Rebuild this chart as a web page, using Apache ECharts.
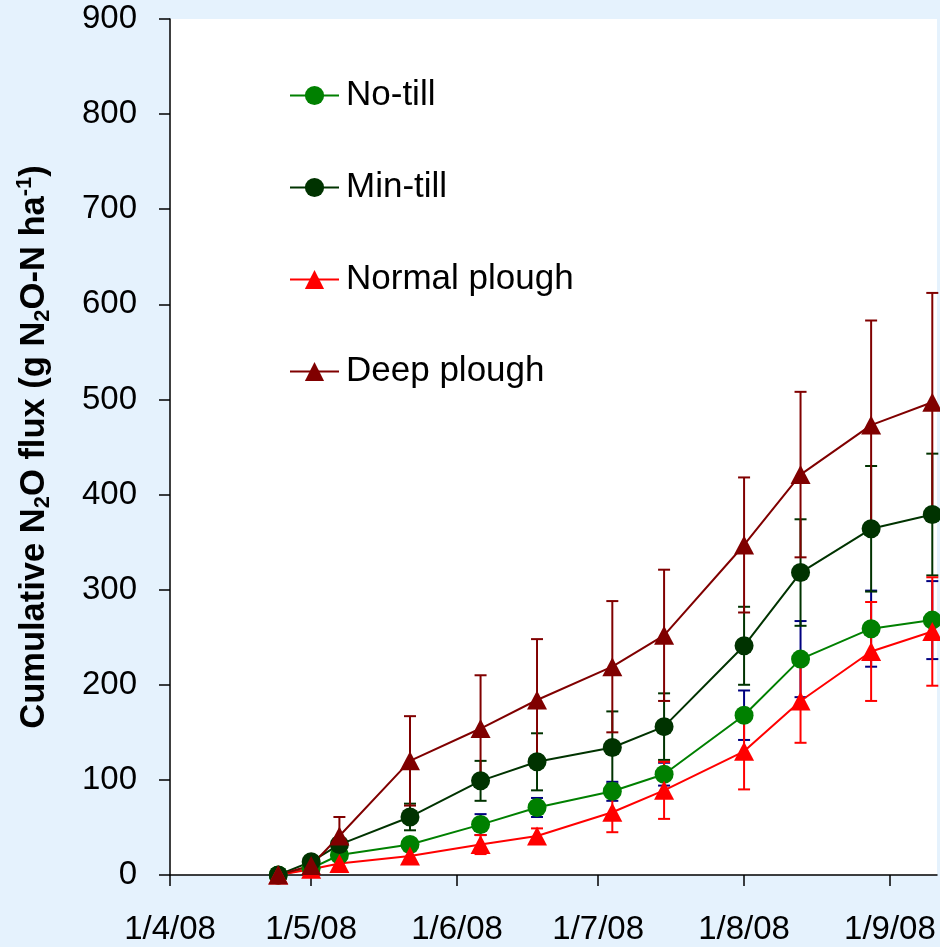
<!DOCTYPE html>
<html>
<head>
<meta charset="utf-8">
<script src="https://cdn.jsdelivr.net/npm/echarts@6/dist/echarts.min.js"></script>
<style>
html,body{margin:0;padding:0;background:#E5F2FD;}
#chart{width:940px;height:947px;}
</style>
</head>
<body>
<div id="chart"></div>
<script>
const dates = ['2008-04-24','2008-05-01','2008-05-07','2008-05-22','2008-06-06','2008-06-18','2008-07-04','2008-07-15','2008-08-01','2008-08-13','2008-08-28','2008-09-10'];
const noTill      = [0, 7, 21, 32, 53, 71, 88, 106, 168, 227, 259, 268];
const noTillErr   = [0, 0, 3, 5, 11, 10, 10, 12, 26, 40, 40, 41];
const minTill     = [0, 14, 32, 61, 99, 119, 134, 156, 241, 318, 364, 379];
const minTillErr  = [0, 2, 5, 14, 21, 30, 38, 35, 41, 56, 66, 64];
const normal      = [0, 6, 12, 20, 32, 41, 66, 89, 130, 183, 235, 256];
const normalErr   = [0, 2, 3, 5, 10, 8, 21, 30, 40, 44, 52, 57];
const deep        = [0, 10, 41, 120, 154, 184, 219, 252, 347, 421, 473, 497];
const deepErr     = [0, 3, 20, 47, 56, 64, 69, 69, 71, 87, 110, 115];
const tickDates   = ['2008-04-01','2008-05-01','2008-06-01','2008-07-01','2008-08-01','2008-09-01'];
const tickLabels  = ['1/4/08','1/5/08','1/6/08','1/7/08','1/8/08','1/9/08'];
const endDate     = '2008-09-11';

function dayOf(s){
  const p = s.split('-').map(Number);
  return Math.round((Date.UTC(p[0],p[1]-1,p[2]) - Date.UTC(2008,3,1))/86400000);
}
const xs = dates.map(dayOf);
const tickDays = tickDates.map(dayOf);

function lineSeries(name, vals, color, symbol){
  return {
    name: name, type: 'line', z: 3,
    data: xs.map((x,i)=>[x, vals[i]]),
    symbol: symbol, symbolSize: symbol === 'circle' ? 19 : [20,19],
    showAllSymbol: true,
    lineStyle: {color: color, width: 2},
    itemStyle: {color: color},
    emphasis: {disabled: true}
  };
}
function errSeries(vals, errs, color){
  return {
    type: 'custom', z: 2, silent: true,
    data: xs.map((x,i)=>[x, vals[i]-errs[i], vals[i]+errs[i], errs[i]]),
    encode: {x: 0, y: [1,2]},
    renderItem: function(params, api){
      if (api.value(3) <= 0) return null;
      const x = api.value(0);
      const lo = api.coord([x, api.value(1)]);
      const hi = api.coord([x, api.value(2)]);
      const w = 6;
      const st = {stroke: color, lineWidth: 2};
      return {type:'group', children:[
        {type:'line', shape:{x1:lo[0],y1:lo[1],x2:hi[0],y2:hi[1]}, style:st},
        {type:'line', shape:{x1:lo[0]-w,y1:lo[1],x2:lo[0]+w,y2:lo[1]}, style:st},
        {type:'line', shape:{x1:hi[0]-w,y1:hi[1],x2:hi[0]+w,y2:hi[1]}, style:st}
      ]};
    }
  };
}

const FONT = 'Liberation Sans, Arial, sans-serif';
const chart = echarts.init(document.getElementById('chart'));
chart.setOption({
  backgroundColor: '#E5F2FD',
  animation: false,
  textStyle: {fontFamily: FONT},
  grid: {left: 170, right: 3, top: 19, bottom: 72, show: true, backgroundColor: '#ffffff', borderWidth: 0},
  legend: {
    data: ['No-till','Min-till','Normal plough','Deep plough'],
    orient: 'vertical', left: 289, top: 78, padding: 0,
    itemWidth: 49, itemHeight: 24, itemGap: 57,
    textStyle: {fontSize: 35, color: '#000', fontFamily: FONT, lineHeight: 34, padding: [0,0,0,2]}
  },
  xAxis: {
    type: 'value', min: 0, max: dayOf(endDate),
    splitLine: {show: false},
    axisLine: {lineStyle: {color: '#000', width: 1.5}},
    axisTick: {show: true, length: 11, customValues: tickDays, lineStyle: {color: '#000', width: 1.5}},
    axisLabel: {
      customValues: tickDays, fontSize: 33, color: '#000', margin: 38, fontFamily: FONT,
      formatter: function(v){ const i = tickDays.indexOf(v); return i >= 0 ? tickLabels[i] : ''; }
    }
  },
  yAxis: {
    type: 'value', min: 0, max: 900, interval: 100,
    splitLine: {show: false},
    axisLine: {show: true, lineStyle: {color: '#000', width: 1.5}},
    axisTick: {show: true, length: 11, lineStyle: {color: '#000', width: 1.5}},
    axisLabel: {fontSize: 33, color: '#000', margin: 33, fontFamily: FONT},
    name: '{b|Cumulative N}{sub|2}{b|O flux (g N}{sub|2}{b|O-N ha}{sup|-1}{b|)}',
    nameLocation: 'middle', nameRotate: 90, nameGap: 116,
    nameTextStyle: {
      rich: {
        b: {fontSize: 34.5, fontWeight: 'bold', color: '#000', fontFamily: FONT, lineHeight: 40},
        sub: {fontSize: 22, fontWeight: 'bold', color: '#000', fontFamily: FONT, lineHeight: 22, verticalAlign: 'bottom'},
        sup: {fontSize: 22, fontWeight: 'bold', color: '#000', fontFamily: FONT, lineHeight: 22, verticalAlign: 'top'}
      }
    }
  },
  series: [
    errSeries(noTill, noTillErr, '#000080'),
    errSeries(minTill, minTillErr, '#003300'),
    errSeries(normal, normalErr, '#FF0000'),
    errSeries(deep, deepErr, '#800000'),
    lineSeries('No-till', noTill, '#008000', 'circle'),
    lineSeries('Min-till', minTill, '#003300', 'circle'),
    lineSeries('Normal plough', normal, '#FF0000', 'triangle'),
    lineSeries('Deep plough', deep, '#800000', 'triangle')
  ]
});
</script>
</body>
</html>
